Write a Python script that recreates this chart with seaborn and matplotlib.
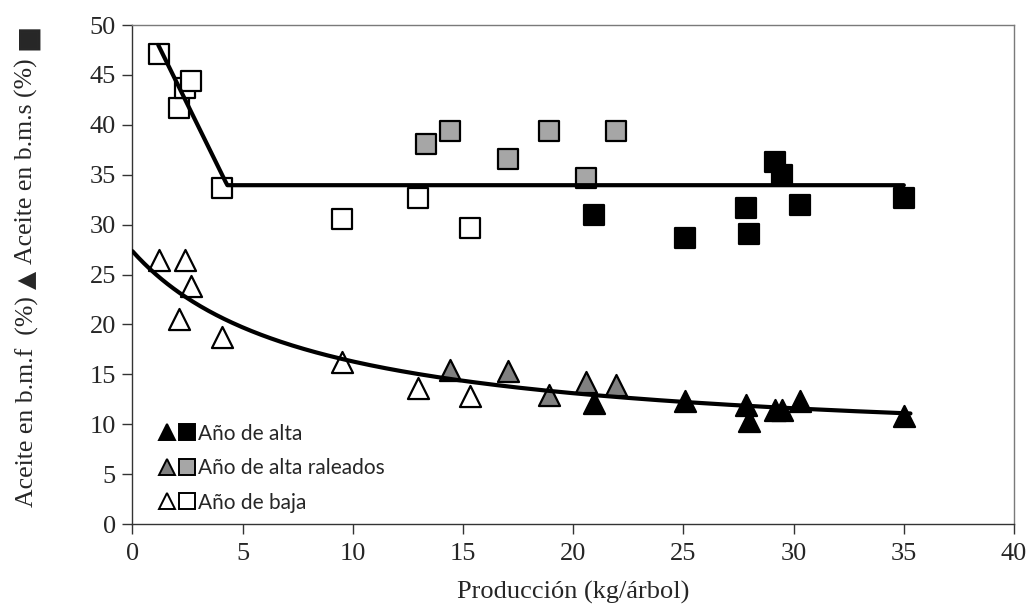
import numpy as np
import pandas as pd
import matplotlib
matplotlib.use("Agg")
import matplotlib.pyplot as plt
import seaborn as sns
from matplotlib.lines import Line2D
from matplotlib.legend_handler import HandlerTuple

# ---- data ----
alta_x   = [20.96, 25.09, 27.82, 27.97, 29.15, 29.49, 30.27, 35.0]
alta_bms = [31.0, 28.7, 31.7, 29.05, 36.3, 35.0, 31.96, 32.7]
alta_bmf = [12.1, 12.35, 11.95, 10.3, 11.45, 11.4, 12.3, 10.8]

ral_x   = [13.3, 14.43, 17.03, 18.9, 20.6, 21.94]
ral_bms = [38.05, 39.36, 36.6, 39.4, 34.7, 39.4]
ral_bmf = [np.nan, 15.4, 15.3, 12.9, 14.2, 13.9]

baja_x   = [1.22, 2.1, 2.4, 2.64, 4.06, 9.5, 12.95, 15.3]
baja_bms = [47.1, 41.7, 43.7, 44.4, 33.7, 30.6, 32.7, 29.7]
baja_bmf = [26.5, 20.55, 26.5, 23.8, 18.7, 16.2, 13.6, 12.8]

group_names = ["Año de alta", "Año de alta raleados", "Año de baja"]

# fitted models (parameters)
bms_plateau, bms_break, bms_slope, bms_x0, bms_x1 = 33.95, 4.3, -4.49, 1.17, 35.0
bmf_c, bmf_a, bmf_k, bmf_x0, bmf_x1 = 7.35, 161.7, 8.09, 0.0, 35.3

xlabel = "Producción (kg/árbol)"
ylabel_parts = ["Aceite en b.m.f  (%)", "▲", "Aceite en b.m.s (%)", "■"]

# ---- figure ----
sns.set_theme(style="white")
plt.rcParams['font.family'] = ['Liberation Serif', 'DejaVu Sans']
SERIF = ['Liberation Serif', 'DejaVu Sans']

fig = plt.figure(figsize=(10.34, 6.07), dpi=100)
ax = fig.add_axes([0.1281, 0.1367, 0.8526, 0.8221])

sq_fill = ["#000000", "#a6a6a6", "#ffffff"]
tri_fill = ["#000000", "#808080", "#ffffff"]
groups = [(alta_x, alta_bms, alta_bmf), (ral_x, ral_bms, ral_bmf), (baja_x, baja_bms, baja_bmf)]

for i, (gx, gs, gf) in enumerate(groups):
    df = pd.DataFrame({"x": gx, "bms": gs, "bmf": gf})
    sns.scatterplot(data=df, x="x", y="bms", marker="s", s=215, color=sq_fill[i],
                    edgecolor="black", linewidth=1.6, ax=ax, zorder=2 + i, legend=False)
    sns.scatterplot(data=df.dropna(), x="x", y="bmf", marker="^", s=230, color=tri_fill[i],
                    edgecolor="black", linewidth=1.6, ax=ax, zorder=2 + i, legend=False)

# trend lines
xs = np.linspace(bms_x0, bms_x1, 400)
ys = np.where(xs < bms_break, bms_plateau + bms_slope * (xs - bms_break), bms_plateau)
sns.lineplot(x=xs, y=ys, color="black", linewidth=3.0, ax=ax, zorder=10)
xf = np.linspace(bmf_x0, bmf_x1, 400)
yf = bmf_c + bmf_a / (xf + bmf_k)
sns.lineplot(x=xf, y=yf, color="black", linewidth=3.0, ax=ax, zorder=10)

ax.set_xlim(0, 40)
ax.set_ylim(0, 50)
ax.set_xticks(np.arange(0, 41, 5))
ax.set_yticks(np.arange(0, 51, 5))
ax.tick_params(axis="both", direction="out", length=7, width=1, color="#333333",
               labelsize=19, pad=5, bottom=True, left=True)
ax.tick_params(axis="x", pad=7)
for lab in ax.get_xticklabels() + ax.get_yticklabels():
    lab.set_family(SERIF)
for name, sp in ax.spines.items():
    sp.set_visible(True)
    sp.set_linewidth(1.0)
    sp.set_color("#333333" if name in ("left", "bottom") else "#7a7a7a")

ax.set_xlabel(xlabel, fontsize=19, labelpad=11, family=SERIF)
ax.set_ylabel("")

# rotated y label built from pieces so the marker glyphs can be larger
yl_x = 0.026
prev = fig.text(yl_x, 1 - 507 / 607, ylabel_parts[0], rotation=90, ha="center", va="bottom",
                fontsize=18.5, family=SERIF)
sizes = [None, 17, 18.5, 20]
fams = [None, ['DejaVu Sans'], SERIF, ['DejaVu Sans']]
gaps = [None, 5, 5, 6]
for j in range(1, 4):
    prev = ax.annotate(ylabel_parts[j], xy=(0.5, 1.0), xycoords=prev,
                       xytext=(0, gaps[j]), textcoords="offset points",
                       rotation=90, ha="center", va="bottom",
                       fontsize=sizes[j], family=fams[j], annotation_clip=False)

# legend (triangle + square per group)
handles = []
for i in range(3):
    t = Line2D([], [], linestyle="none", marker="^", markersize=12, markerfacecolor=tri_fill[i],
               markeredgecolor="black", markeredgewidth=1.4)
    q = Line2D([], [], linestyle="none", marker="s", markersize=11, markerfacecolor=sq_fill[i],
               markeredgecolor="black", markeredgewidth=1.4)
    handles.append((t, q))
leg = ax.legend(handles, group_names, handler_map={tuple: HandlerTuple(ndivide=None, pad=0.15)},
                loc="lower left", bbox_to_anchor=(0.02, 0.006), frameon=False,
                prop={"family": "Lato", "size": 15}, handlelength=1.8, handletextpad=0.1,
                labelspacing=0.7, borderaxespad=0.0)

fig.savefig("out.png", dpi=100)
